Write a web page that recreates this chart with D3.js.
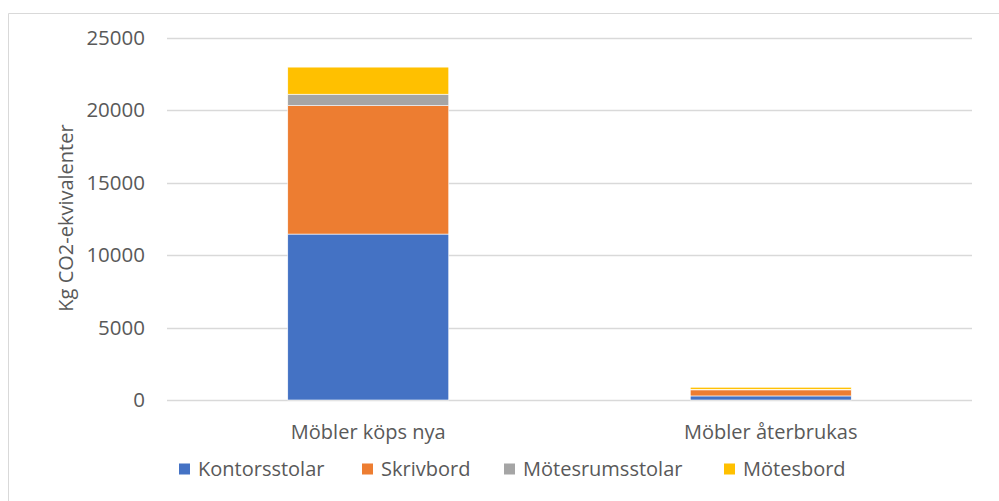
<!DOCTYPE html>
<html><head><meta charset="utf-8">
<script src="https://cdn.jsdelivr.net/npm/d3@7"></script>
<style>body{margin:0;background:#fff}svg{display:block}text{font-family:"Open Sans",sans-serif;fill:#595959}</style>
</head><body><svg id="c" width="999" height="501"></svg>
<script>
const categories = ["Möbler köps nya", "Möbler återbrukas"];
const seriesNames = ["Kontorsstolar", "Skrivbord", "Mötesrumsstolar", "Mötesbord"];
const colors = ["#4472C4", "#ED7D31", "#A5A5A5", "#FFC000"];
const kontorsstolar = [11450, 280];
const skrivbord = [8860, 420];
const motesrumsstolar = [790, 40];
const motesbord = [1870, 140];
const yTicks = [0, 5000, 10000, 15000, 20000, 25000];
const yTitle = "Kg CO2-ekvivalenter";

(function () {
const values = [kontorsstolar, skrivbord, motesrumsstolar, motesbord];
const rows = categories.map((c, i) => {
  const r = {cat: c};
  seriesNames.forEach((s, j) => r[s] = values[j][i]);
  return r;
});
const stack = d3.stack().keys(seriesNames)(rows);

const svg = d3.select("#c");
svg.append("path").attr("d", "M8.5,501 V13.5 H999").attr("fill", "none").attr("stroke", "#D9D9D9").attr("stroke-width", 1);

const mLeft = 167, mRight = 972, mTop = 37.7, mBottom = 400;
const x = d3.scaleBand().domain(categories).range([mLeft, mRight]).paddingInner(0.6).paddingOuter(0.3);
const y = d3.scaleLinear().domain([0, 25000]).range([mBottom, mTop]);

svg.append("g").selectAll("line").data(yTicks).join("line")
  .attr("x1", mLeft).attr("x2", mRight)
  .attr("y1", d => Math.round(y(d)) + 0.5).attr("y2", d => Math.round(y(d)) + 0.5)
  .attr("stroke", "#D9D9D9").attr("stroke-width", 1.3);

const yAxis = d3.axisLeft(y).tickValues(yTicks).tickSize(0).tickPadding(0).tickFormat(d3.format("d"));
const ya = svg.append("g").attr("transform", "translate(145,0)").call(yAxis);
ya.select(".domain").remove();
ya.selectAll("text").attr("font-size", 20.5).attr("fill", "#595959").attr("font-family", '"Open Sans",sans-serif');

svg.append("g").selectAll("g").data(stack).join("g")
  .attr("fill", (d, i) => colors[i])
  .selectAll("rect").data(d => d).join("rect")
  .attr("x", d => x(d.data.cat))
  .attr("width", x.bandwidth())
  .attr("y", d => y(d[1]))
  .attr("height", d => y(d[0]) - y(d[1]))
  .attr("stroke", "#fff").attr("stroke-width", 0.6);

const xAxis = d3.axisBottom(x).tickSize(0).tickPadding(0);
const xa = svg.append("g").attr("transform", `translate(0,${mBottom + 39})`).call(xAxis);
xa.select(".domain").remove();
xa.selectAll("text").attr("font-size", 20).attr("fill", "#595959").attr("dy", 0).attr("font-family", '"Open Sans",sans-serif');

svg.append("text").attr("transform", "translate(73,218) rotate(-90)")
  .attr("text-anchor", "middle").attr("font-size", 20).text(yTitle);

const legendX = [179, 362, 504, 724];
const lg = svg.append("g").selectAll("g").data(seriesNames).join("g")
  .attr("transform", (d, i) => `translate(${legendX[i]},469)`);
lg.append("rect").attr("x", 0).attr("y", -5.5).attr("width", 11).attr("height", 11).attr("fill", (d, i) => colors[i]);
lg.append("text").attr("x", 19).attr("y", 0).attr("dy", "0.35em").attr("font-size", 20).text(d => d);
})();
</script></body></html>
